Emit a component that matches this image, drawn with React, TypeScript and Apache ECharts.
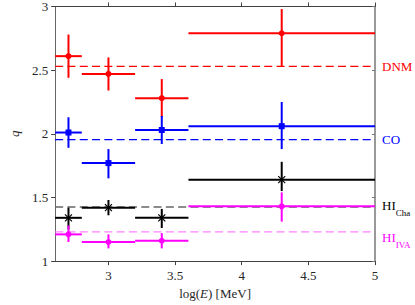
import React, { useEffect, useRef } from "react";
import * as echarts from "echarts";

const FONT = "'Liberation Serif', 'DejaVu Serif', serif";

// bins in log(E) [MeV]
const xCenters = [2.7, 3.0, 3.4, 4.3];
const xLow = [2.6, 2.8, 3.2, 3.6];
const xHigh = [2.8, 3.2, 3.6, 5.0];

// DNM
const dnmY = [2.61, 2.47, 2.28, 2.79];
const dnmLow = [2.44, 2.34, 2.13, 2.53];
const dnmHigh = [2.78, 2.6, 2.43, 2.98];
// CO
const coY = [2.01, 1.77, 2.03, 2.06];
const coLow = [1.89, 1.65, 1.92, 1.88];
const coHigh = [2.13, 1.88, 2.14, 2.25];
// HI Cha
const hiChaY = [1.34, 1.42, 1.34, 1.64];
const hiChaLow = [1.25, 1.36, 1.26, 1.55];
const hiChaHigh = [1.42, 1.48, 1.41, 1.78];
// HI IVA
const hiIvaY = [1.21, 1.15, 1.16, 1.43];
const hiIvaLow = [1.15, 1.1, 1.1, 1.31];
const hiIvaHigh = [1.28, 1.21, 1.22, 1.54];

// reference levels
const refDNM = 2.53;
const refCO = 1.955;
const refHICha = 1.425;
const refHIIVA = 1.23;

const xTickValues = [3, 3.5, 4, 4.5, 5];
const xMin = 2.6;
const xMax = 5;

function buildData(y: number[], lo: number[], hi: number[]) {
  return xCenters.map((x, i) => [x, y[i], xLow[i], xHigh[i], lo[i], hi[i]]);
}

function makeErrSeries(name: string, color: string, marker: string, y: number[], lo: number[], hi: number[]) {
  return {
    type: "custom",
    name,
    data: buildData(y, lo, hi),
    encode: { x: [0, 2, 3], y: [1, 4, 5] },
    z: 3,
    renderItem: (params: any, api: any) => {
      const c = api.coord([api.value(0), api.value(1)]);
      const l = api.coord([api.value(2), api.value(1)]);
      const r = api.coord([api.value(3), api.value(1)]);
      const t = api.coord([api.value(0), api.value(5)]);
      const b = api.coord([api.value(0), api.value(4)]);
      const stroke = { stroke: color, lineWidth: 2 };
      const children: any[] = [
        { type: "line", shape: { x1: l[0], y1: c[1], x2: r[0], y2: c[1] }, style: stroke },
        { type: "line", shape: { x1: c[0], y1: t[1], x2: c[0], y2: b[1] }, style: stroke },
      ];
      if (marker === "circle") {
        children.push({ type: "circle", shape: { cx: c[0], cy: c[1], r: 3 }, style: { fill: color } });
      } else if (marker === "square") {
        children.push({ type: "rect", shape: { x: c[0] - 3, y: c[1] - 3, width: 6, height: 6 }, style: { fill: color } });
      } else {
        const s = 3.5;
        const st = { stroke: color, lineWidth: 1.2 };
        children.push(
          { type: "line", shape: { x1: c[0] - s, y1: c[1] - s, x2: c[0] + s, y2: c[1] + s }, style: st },
          { type: "line", shape: { x1: c[0] - s, y1: c[1] + s, x2: c[0] + s, y2: c[1] - s }, style: st }
        );
      }
      return { type: "group", children };
    },
  };
}

function makeRefSeries(name: string, value: number, color: string, labelColor: string, formatter: string, offsetY: number) {
  return {
    type: "line",
    name,
    data: [
      [xMin, value],
      [xMax, value],
    ],
    symbol: "none",
    z: 2,
    lineStyle: { color, width: 1.3, type: [8, 4.3] },
    endLabel: {
      show: true,
      formatter,
      distance: 7,
      offset: [0, offsetY],
      color: labelColor,
      fontFamily: FONT,
      fontSize: 13,
      rich: {
        a: { fontFamily: FONT, fontSize: 13, lineHeight: 13, verticalAlign: "top", color: labelColor },
        b: { fontFamily: FONT, fontSize: 9, lineHeight: 9, padding: [9, 0, 0, 0], verticalAlign: "top", color: labelColor },
      },
    },
  };
}

export default function App() {
  const ref = useRef<HTMLDivElement>(null);
  useEffect(() => {
    if (!ref.current) return;
    const chart = echarts.init(ref.current, undefined, { renderer: "svg" });
    const axisColor = "#404040";
    chart.setOption({
      animation: false,
      backgroundColor: "#ffffff",
      grid: { left: 40, right: 40, top: 5, bottom: 39, containLabel: false },
      xAxis: [
        {
          type: "value",
          position: "bottom",
          min: xMin,
          max: xMax,
          name: "{n|log(}{i|E}{n|) [MeV]}",
          nameLocation: "middle",
          nameGap: 24,
          nameTextStyle: {
            rich: {
              n: { fontFamily: FONT, fontSize: 13, color: "#262626" },
              i: { fontFamily: FONT, fontSize: 13, fontStyle: "italic", color: "#262626" },
            },
          },
          axisLine: { show: true, onZero: false, lineStyle: { color: axisColor, width: 1 } },
          axisTick: { show: true, inside: false, length: 4, customValues: xTickValues, lineStyle: { color: axisColor } },
          axisLabel: { customValues: xTickValues, margin: 8, color: "#262626", fontFamily: FONT, fontSize: 13 },
          splitLine: { show: false },
        },
        {
          type: "value",
          position: "top",
          min: xMin,
          max: xMax,
          axisLine: { show: true, onZero: false, lineStyle: { color: axisColor, width: 1 } },
          axisTick: { show: true, inside: false, length: 4, customValues: xTickValues, lineStyle: { color: axisColor } },
          axisLabel: { show: false },
          splitLine: { show: false },
        },
      ],
      yAxis: [
        {
          type: "value",
          position: "left",
          min: 1,
          max: 3,
          interval: 0.5,
          name: "q",
          nameLocation: "middle",
          nameGap: 34,
          nameTextStyle: { fontFamily: FONT, fontSize: 13, fontStyle: "italic", color: "#262626" },
          axisLine: { show: true, onZero: false, lineStyle: { color: "#666666", width: 1 } },
          axisTick: { show: true, inside: false, length: 4, lineStyle: { color: axisColor } },
          axisLabel: { margin: 7, color: "#262626", fontFamily: FONT, fontSize: 13 },
          splitLine: { show: false },
        },
        {
          type: "value",
          position: "right",
          min: 1,
          max: 3,
          interval: 0.5,
          axisLine: { show: true, onZero: false, lineStyle: { color: "#999999", width: 2 } },
          axisTick: { show: true, inside: true, length: 3, lineStyle: { color: "#777777" } },
          axisLabel: { show: false },
          splitLine: { show: false },
        },
      ],
      series: [
        makeRefSeries("DNM ref", refDNM, "#ff0000", "#ff0000", "DNM", 0),
        makeRefSeries("CO ref", refCO, "#0000ff", "#0000ff", "CO", 0),
        makeRefSeries("HICha ref", refHICha, "#666666", "#000000", "{a|HI}{b|Cha}", -1),
        makeRefSeries("HIIVA ref", refHIIVA, "#ff80ff", "#ff00ff", "{a|HI}{b|IVA}", 6),
        makeErrSeries("DNM", "#ff0000", "circle", dnmY, dnmLow, dnmHigh),
        makeErrSeries("CO", "#0000ff", "square", coY, coLow, coHigh),
        makeErrSeries("HI Cha", "#000000", "star", hiChaY, hiChaLow, hiChaHigh),
        makeErrSeries("HI IVA", "#ff00ff", "circle", hiIvaY, hiIvaLow, hiIvaHigh),
      ],
    });
    return () => chart.dispose();
  }, []);
  return <div ref={ref} style={{ position: "fixed", left: 0, top: 0, width: 415, height: 305 }} />;
}
